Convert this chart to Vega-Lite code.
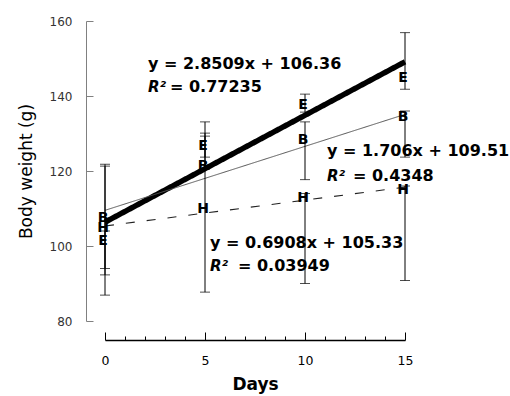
{
  "$schema": "https://vega.github.io/schema/vega-lite/v6.json",
  "width": 300,
  "height": 300,
  "autosize": "none",
  "padding": {"left": 105, "top": 21, "right": 105, "bottom": 75},
  "background": "white",
  "config": {"view": {"stroke": null}, "font": "DejaVu Sans"},
  "datasets": {
    "points": [
      {"day": 0, "grp": "E", "sym": "E", "val": 101.7, "lo": 92.3, "hi": 104},
      {"day": 0, "grp": "B", "sym": "B", "val": 107.7, "lo": 94, "hi": 121.8},
      {"day": 0, "grp": "H", "sym": "H", "val": 105.1, "lo": 86.9, "hi": 121.3},
      {"day": 5, "grp": "E", "sym": "E", "val": 126.9, "lo": 123.7, "hi": 130.1},
      {"day": 5, "grp": "B", "sym": "B", "val": 121.7, "lo": 120.5, "hi": 129.3},
      {"day": 5, "grp": "H", "sym": "H", "val": 110.2, "lo": 87.7, "hi": 133.1},
      {"day": 10, "grp": "E", "sym": "E", "val": 138, "lo": 135.7, "hi": 140.5},
      {"day": 10, "grp": "B", "sym": "B", "val": 128.6, "lo": 117.7, "hi": 133.1},
      {"day": 10, "grp": "H", "sym": "H", "val": 113.1, "lo": 90, "hi": 114},
      {"day": 15, "grp": "E", "sym": "E", "val": 145.1, "lo": 141.8, "hi": 156.9},
      {"day": 15, "grp": "B", "sym": "B", "val": 134.7, "lo": 123.7, "hi": 136},
      {"day": 15, "grp": "H", "sym": "H", "val": 115.1, "lo": 90.8, "hi": 116}
    ],
    "fits": [
      {"day": 0, "grp": "E", "fit": 106.36},
      {"day": 15, "grp": "E", "fit": 149.12},
      {"day": 0, "grp": "B", "fit": 109.51},
      {"day": 15, "grp": "B", "fit": 135.1},
      {"day": 0, "grp": "H", "fit": 105.33},
      {"day": 15, "grp": "H", "fit": 115.69}
    ],
    "eqs": [
      {"tx": 2.15, "ty": 148.6, "label": "y = 2.8509x + 106.36"},
      {"tx": 3.25, "ty": 142.3, "label": "= 0.77235"},
      {"tx": 11.1, "ty": 125.3, "label": "y = 1.706x + 109.51"},
      {"tx": 12.4, "ty": 118.7, "label": "= 0.4348"},
      {"tx": 5.25, "ty": 100.9, "label": "y = 0.6908x + 105.33"},
      {"tx": 6.65, "ty": 94.7, "label": "= 0.03949"}
    ],
    "r2": [
      {"tx": 2.15, "ty": 142.3, "label": "R²"},
      {"tx": 11.1, "ty": 118.7, "label": "R²"},
      {"tx": 5.25, "ty": 94.7, "label": "R²"}
    ]
  },
  "resolve": {"axis": {"x": "independent"}},
  "layer": [
    {
      "data": {"name": "fits"},
      "mark": {"type": "line", "strokeCap": "butt"},
      "encoding": {
        "x": {"field": "day", "type": "quantitative", "scale": {"domain": [0, 15], "nice": false, "zero": false},
          "axis": {"orient": "bottom", "values": [1, 2, 3, 4, 6, 7, 8, 9, 11, 12, 13, 14], "tickSize": -4, "tickColor": "black", "tickWidth": 1, "labels": false, "domain": false, "title": null, "grid": false, "offset": 19}},
        "y": {"field": "fit", "type": "quantitative", "scale": {"domain": [80, 160], "nice": false, "zero": false},
          "axis": {"values": [80, 100, 120, 140, 160], "title": "Body weight (g)", "grid": false, "offset": 19,
            "domainColor": "#808080", "tickColor": "#808080", "tickSize": -7, "labelPadding": 21, "labelFlush": false,
            "labelFontSize": 12, "labelColor": "#333", "labelFont": "DejaVu Sans",
            "titleFontSize": 17, "titleFontWeight": 500, "titleColor": "black", "titleFont": "DejaVu Sans", "titlePadding": 14}},
        "detail": {"field": "grp"},
        "color": {"field": "grp", "type": "nominal", "scale": {"domain": ["E", "B", "H"], "range": ["black", "#555555", "#222222"]}, "legend": null},
        "strokeWidth": {"field": "grp", "type": "nominal", "scale": {"type": "ordinal", "domain": ["E", "B", "H"], "range": [5.5, 1, 1.1]}, "legend": null},
        "strokeDash": {"field": "grp", "type": "nominal", "scale": {"domain": ["E", "B", "H"], "range": [[1, 0], [1, 0], [9, 12]]}, "legend": null}
      }
    },
    {
      "data": {"name": "points"},
      "mark": {"type": "rule", "color": "black", "strokeWidth": 1},
      "encoding": {
        "x": {"field": "day", "type": "quantitative",
          "axis": {"orient": "bottom", "values": [0, 5, 10, 15], "tickSize": -8, "tickColor": "black", "domainColor": "black", "domainWidth": 1.3, "grid": false, "offset": 19,
            "labelPadding": 22, "labelFlush": false, "labelFontSize": 12.5, "labelColor": "black", "labelFont": "DejaVu Sans",
            "title": "Days", "titleFontSize": 17, "titleFontWeight": "bold", "titleColor": "black", "titleFont": "DejaVu Sans", "titlePadding": 10}},
        "y": {"field": "lo", "type": "quantitative"},
        "y2": {"field": "hi"}
      }
    },
    {
      "data": {"name": "points"},
      "mark": {"type": "tick", "orient": "horizontal", "color": "black", "size": 10, "thickness": 1},
      "encoding": {
        "x": {"field": "day", "type": "quantitative", "axis": null},
        "y": {"field": "lo", "type": "quantitative"}
      }
    },
    {
      "data": {"name": "points"},
      "mark": {"type": "tick", "orient": "horizontal", "color": "black", "size": 10, "thickness": 1},
      "encoding": {
        "x": {"field": "day", "type": "quantitative", "axis": null},
        "y": {"field": "hi", "type": "quantitative"}
      }
    },
    {
      "data": {"name": "points"},
      "mark": {"type": "text", "font": "DejaVu Sans", "fontWeight": "bold", "fontSize": 14, "color": "black", "baseline": "middle", "align": "center", "dx": -2, "dy": 1},
      "encoding": {
        "x": {"field": "day", "type": "quantitative", "axis": null},
        "y": {"field": "val", "type": "quantitative"},
        "text": {"field": "sym"}
      }
    },
    {
      "data": {"name": "eqs"},
      "mark": {"type": "text", "font": "DejaVu Sans", "fontWeight": "bold", "fontSize": 16, "color": "black", "baseline": "middle", "align": "left"},
      "encoding": {
        "x": {"field": "tx", "type": "quantitative", "axis": null},
        "y": {"field": "ty", "type": "quantitative"},
        "text": {"field": "label"}
      }
    },
    {
      "data": {"name": "r2"},
      "mark": {"type": "text", "font": "DejaVu Sans", "fontWeight": "bold", "fontStyle": "italic", "fontSize": 15, "color": "black", "baseline": "middle", "align": "left"},
      "encoding": {
        "x": {"field": "tx", "type": "quantitative", "axis": null},
        "y": {"field": "ty", "type": "quantitative"},
        "text": {"field": "label"}
      }
    }
  ]
}
